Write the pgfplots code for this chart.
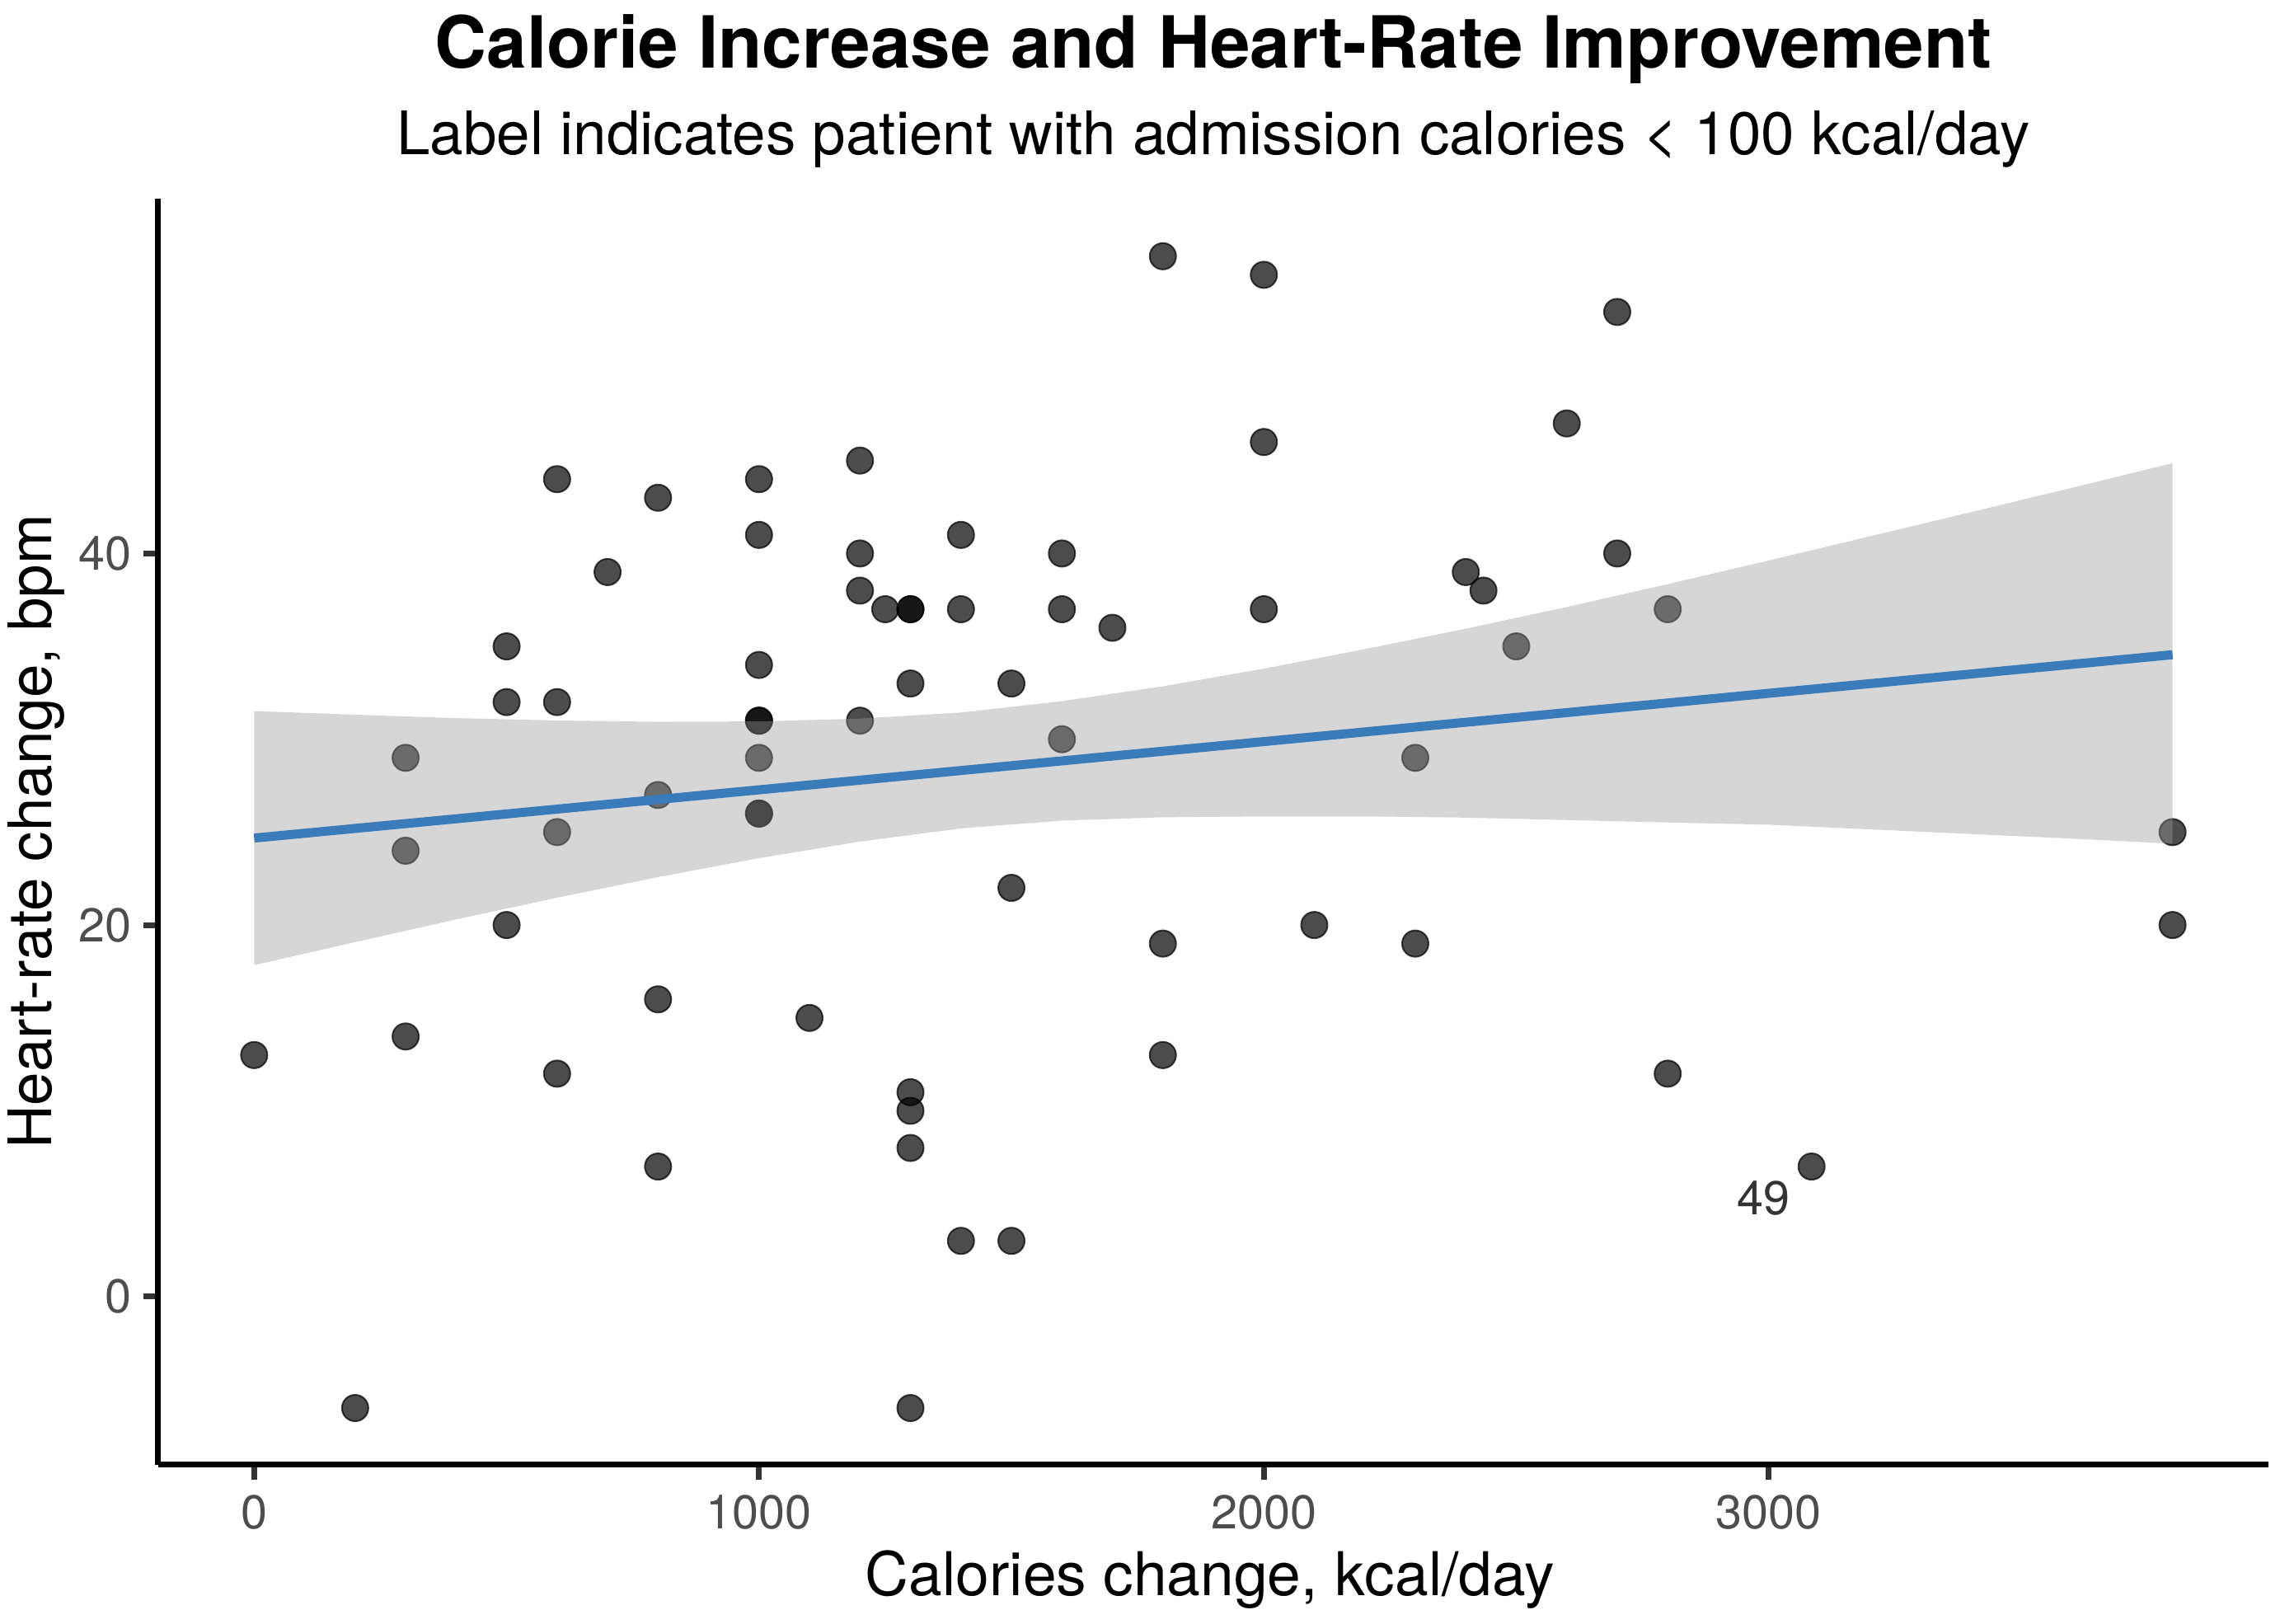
\documentclass[border=0pt]{standalone}
\usepackage{pgfplots}
\pgfplotsset{compat=1.18}
\usepackage{pgfplotstable}
\usepackage{fontspec}
\setmainfont{TeX Gyre Heros}
\definecolor{bandgrey}{RGB}{153,153,153}
\definecolor{fitline}{RGB}{58,124,186}
\definecolor{grey30}{RGB}{77,77,77}
\definecolor{grey20}{RGB}{51,51,51}

\pgfplotstableread{
x y
0 13
200 -6
300 29
300 24
300 14
500 35
500 32
500 20
600 44
600 32
600 25
600 12
700 39
800 43
800 27
800 16
800 7
1000 44
1000 41
1000 34
1000 31
1000 31
1000 29
1000 26
1000 26
1100 15
1200 45
1200 40
1200 38
1200 31
1250 37
1300 37
1300 37
1300 33
1300 11
1300 10
1300 8
1300 -6
1400 41
1400 37
1400 3
1500 33
1500 22
1500 3
1600 40
1600 37
1600 30
1700 36
1800 56
1800 19
1800 13
2000 55
2000 46
2000 37
2100 20
2300 29
2300 19
2400 39
2435 38
2500 35
2600 47
2700 53
2700 40
2800 37
2800 12
3085 7
3800 25
3800 20
}\pointdata

% confidence band outline: upper edge left to right, then lower edge right to left
\pgfplotstableread{
x y
0 31.52
200 31.32
400 31.14
600 31.01
800 30.94
1000 30.96
1200 31.11
1400 31.44
1600 32.05
1800 32.85
2000 33.80
2200 34.85
2400 35.95
2600 37.12
2800 38.35
3000 39.62
3200 40.92
3400 42.22
3600 43.53
3800 44.86
3800 24.38
3600 24.65
3400 24.90
3200 25.15
3000 25.40
2800 25.52
2600 25.65
2400 25.78
2200 25.85
2000 25.85
1800 25.80
1600 25.62
1400 25.20
1200 24.49
1000 23.60
800 22.58
600 21.47
400 20.30
200 19.08
0 17.84
}\banddata

\pgfplotstableread{
x y
0 24.68
3800 34.55
}\fitdata

\begin{document}
\begin{tikzpicture}
\begin{axis}[
  width=640pt, height=384pt, scale only axis,
  xmin=-190, xmax=3990, ymin=-9.06, ymax=59.1,
  axis lines=left,
  axis line style={-, line width=1.75pt, black},
  xtick={0,1000,2000,3000}, ytick={0,20,40},
  minor tick num=0,
  tick align=outside,
  major tick length=4.4pt,
  major tick style={line width=1.75pt, grey20},
  /pgf/number format/assume math mode=true,
  /pgf/number format/1000 sep={},
  tick label style={font=\fontsize{14.4}{16}\selectfont, text=grey30},
  xticklabel style={anchor=base, inner sep=0pt, yshift=-15pt},
  yticklabel style={anchor=east, inner sep=0pt, xshift=-3.5pt},
  clip=true,
  clip marker paths=true,
]
\addplot[only marks, mark=*, mark size=4pt,
  mark options={fill=black, draw=black, opacity=0.7, line width=0.5pt}]
  table[x=x, y=y] {\pointdata};
\addplot[fill=bandgrey, fill opacity=0.4, draw=none] table[x=x, y=y] {\banddata};
\addplot[fitline, line width=2.75pt] table[x=x, y=y] {\fitdata};
\node[anchor=base, inner sep=0pt, font=\fontsize{14.4}{16}\selectfont, text=black!80] at (axis cs:2990,4.42) {49};
\end{axis}
\node[anchor=base, inner sep=0pt, font=\fontsize{21.8}{25}\selectfont\bfseries] at (320pt,423.5pt) {Calorie Increase and Heart-Rate Improvement};
\node[anchor=base, inner sep=0pt, font=\fontsize{18.2}{21}\selectfont] at (320pt,397.25pt) {Label indicates patient with admission calories < 100 kcal/day};
\node[anchor=base, inner sep=0pt, font=\fontsize{18.3}{21}\selectfont] at (319pt,-39.75pt) {Calories change, kcal/day};
\node[anchor=base, rotate=90, inner sep=0pt, font=\fontsize{18.2}{21}\selectfont] at (-32.25pt,192pt) {Heart-rate change, bpm};
\pgfresetboundingbox
\useasboundingbox (-48pt,-48.25pt) rectangle (643.5pt,444.25pt);
\end{tikzpicture}
\end{document}
